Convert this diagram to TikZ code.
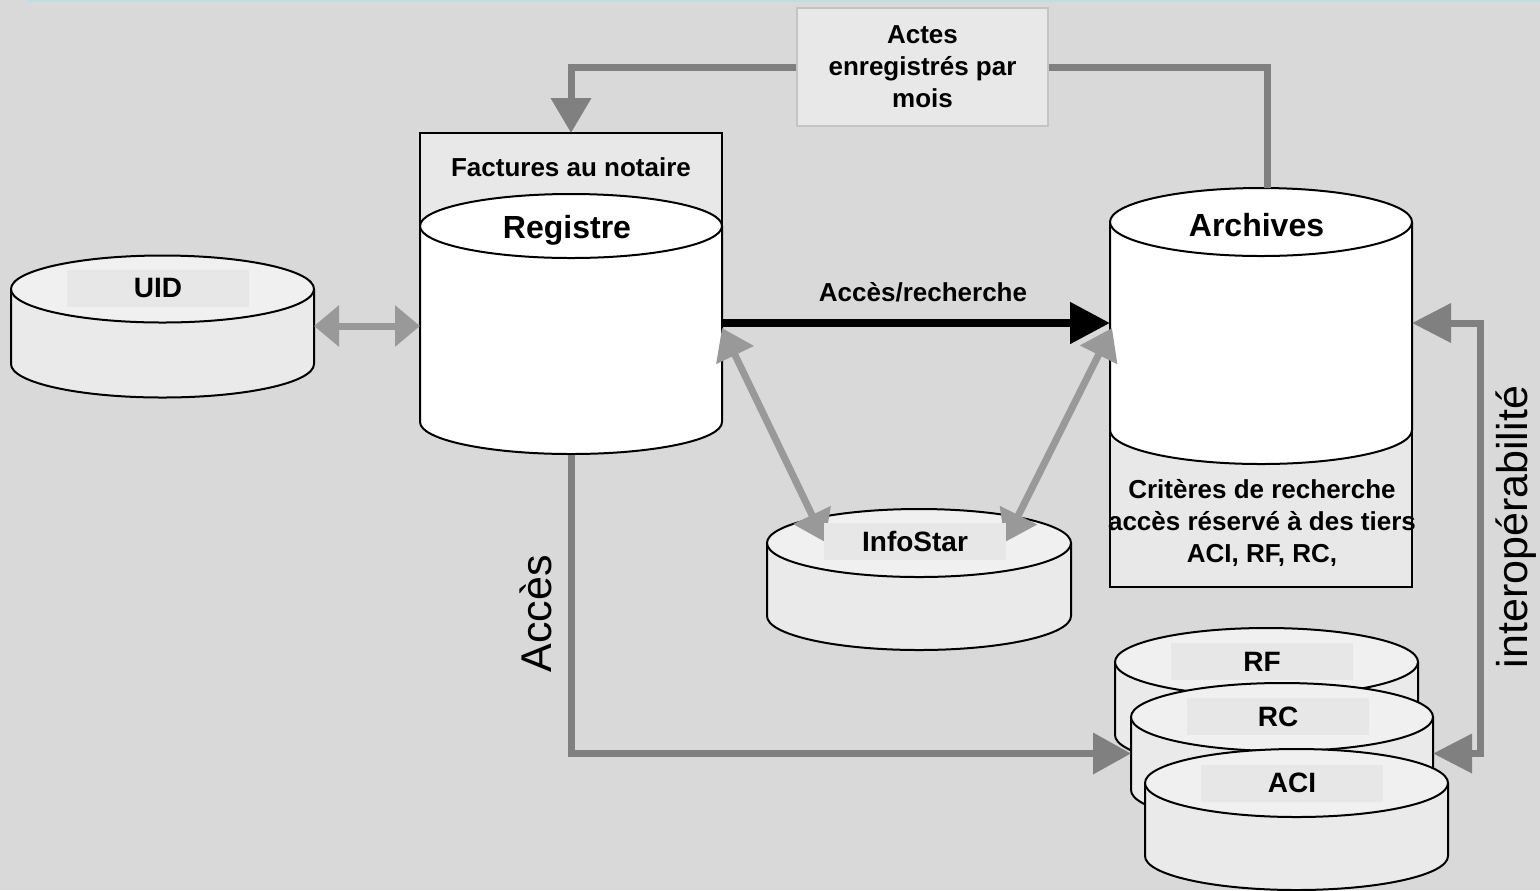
\documentclass[tikz,border=0pt]{standalone}
\usepackage{fontspec}
\setmainfont{Liberation Sans}
\usetikzlibrary{arrows.meta}
\definecolor{bg}{HTML}{D9D9D9}
\definecolor{cyltop}{HTML}{F0F0F0}
\definecolor{cylbody}{HTML}{EAEAEA}
\definecolor{lblfill}{HTML}{E7E7E7}
\definecolor{panel}{HTML}{E8E8E8}
\definecolor{darkg}{HTML}{808080}
\definecolor{lightg}{HTML}{999999}
\definecolor{frameg}{HTML}{C4C4C4}
\definecolor{tealline}{HTML}{B8E2E2}
% cx, top cy, bottom cy, rx, ry, top fill, body fill (pixel units)
\newcommand\dbcyl[7]{%
  \fill[#7] (#1-#4,#2) -- (#1-#4,#3) arc[start angle=180,end angle=360,x radius=#4*0.5pt,y radius=#5*0.5pt] -- (#1+#4,#2) -- cycle;
  \draw[outline] (#1-#4,#2) -- (#1-#4,#3) arc[start angle=180,end angle=360,x radius=#4*0.5pt,y radius=#5*0.5pt] -- (#1+#4,#2);
  \filldraw[outline,fill=#6] (#1,#2) ellipse[x radius=#4*0.5pt,y radius=#5*0.5pt];
}
\tikzset{
  outline/.style={draw=black,line width=1pt},
  anchorbox/.style={inner sep=0pt,outer sep=0pt,draw=none},
  tsmall/.style={font=\fontsize{13pt}{16pt}\selectfont\bfseries,inner sep=0pt,align=center},
  tbig/.style={font=\fontsize{16pt}{19pt}\selectfont\bfseries,inner sep=0pt},
  lblbox/.style={fill=lblfill,font=\fontsize{14pt}{17pt}\selectfont\bfseries,inner sep=0pt,minimum width=91pt,minimum height=18.5pt},
  rot/.style={font=\fontsize{21.5pt}{25pt}\selectfont,rotate=90,inner sep=0pt},
  actesbox/.style={fill=panel,draw=frameg,line width=1pt,minimum width=125.5pt,minimum height=59pt,inner sep=0pt,align=center,font=\fontsize{13pt}{16pt}\selectfont\bfseries},
  darkconn/.style={draw=darkg,line width=3.5pt},
  lightconn/.style={draw=lightg,line width=3.5pt},
  blackconn/.style={draw=black,line width=4pt},
}
\begin{document}
\begin{tikzpicture}[x=0.5pt,y=-0.5pt]
\useasboundingbox (0,0) rectangle (1540,890);
\fill[bg] (0,0) rectangle (1540,890);
\draw[tealline,line width=1pt] (27,0.5) -- (1540,0.5);

% panels behind cylinders
\filldraw[outline,fill=panel] (420,133) rectangle (722,300);
\filldraw[outline,fill=panel] (1110,430) rectangle (1412,587);

% cylinders
\dbcyl{162.5}{289}{364}{151.5}{33.5}{cyltop}{cylbody}
\dbcyl{571}{226}{422}{151}{32}{white}{white}
\dbcyl{1261}{222}{430}{151}{34}{white}{white}
\dbcyl{919}{543}{616}{152}{34}{cyltop}{cylbody}
\dbcyl{1266.5}{662}{735}{151.5}{34}{cyltop}{cylbody}
\dbcyl{1282}{717}{790}{151}{34}{cyltop}{cylbody}
\dbcyl{1296.5}{783}{856}{151.5}{34}{cyltop}{cylbody}

% named frames of the elements
\node[anchorbox,minimum width=151.5pt,minimum height=71pt] (uid) at (162.5,326) {};
\node[anchorbox,minimum width=151pt,minimum height=161pt] (reg) at (571,294) {};
\node[anchorbox,minimum width=151pt,minimum height=199.5pt] (arch) at (1261,387.5) {};
\node[anchorbox,minimum width=152pt,minimum height=70.5pt] (info) at (919,579.5) {};
\node[anchorbox,minimum width=151.5pt,minimum height=70.5pt] (rf) at (1266.5,698.5) {};
\node[anchorbox,minimum width=151pt,minimum height=70.5pt] (rc) at (1282,753.5) {};
\node[anchorbox,minimum width=151.5pt,minimum height=70.5pt] (aci) at (1296.5,819.5) {};
\node[actesbox] (actes) at (922.5,67) {Actes\\enregistrés par\\mois};

% connectors
\draw[darkconn,-{Triangle[width=19.5pt,length=17.5pt]}] (actes.west) -| (reg.north);
\draw[darkconn] ([xshift=3pt]arch.north) |- (actes.east);
\draw[lightconn,{Triangle[width=20pt,length=12.5pt]}-{Triangle[width=20pt,length=12.5pt]}] (uid.east) -- (uid.east -| reg.west);
\draw[blackconn,-{Triangle[width=20pt,length=20pt]}] ([yshift=-14.5pt]reg.east) coordinate (ar1) -- (ar1 -| arch.west)
  node[pos=0.5,xshift=3.5pt,yshift=15.5pt,tsmall,text=black] {Accès/recherche};
\draw[lightconn,{Triangle[width=20pt,length=15pt]}-{Triangle[width=20pt,length=15pt]}] ([yshift=-17pt]reg.east) -- ([shift={(-47pt,18.75pt)}]info.center);
\draw[lightconn,{Triangle[width=20pt,length=15pt]}-{Triangle[width=20pt,length=15pt]}] ([shift={(1pt,29.75pt)}]arch.west) -- ([shift={(43pt,18.75pt)}]info.center);
\draw[darkconn,-{Triangle[width=20pt,length=19pt]}] (reg.south) |- (rc.west);
\draw[darkconn,{Triangle[width=19pt,length=19.5pt]}-{Triangle[width=19pt,length=19.5pt]}] ([yshift=32.25pt]arch.east) -- ++(34pt,0) |- (rc.east);

% labels
\node[lblbox] at (158,288) {UID};
\node[lblbox] at (915,541.5) {InfoStar};
\node[lblbox] at (1262,661.5) {RF};
\node[lblbox] at (1278,716.5) {RC};
\node[lblbox] at (1292,783) {ACI};
\node[tsmall] at (571,167) {Factures au notaire};
\node[tbig] at (567,230) {Registre};
\node[tbig] at (1256.5,225) {Archives};
\node[tsmall] at (1262,523) {Critères de recherche\\accès réservé à des tiers\\ACI, RF, RC,};
\node[rot] at (536,614) {Accès};
\node[rot] at (1516,527) {interopérabilité};
\end{tikzpicture}
\end{document}
